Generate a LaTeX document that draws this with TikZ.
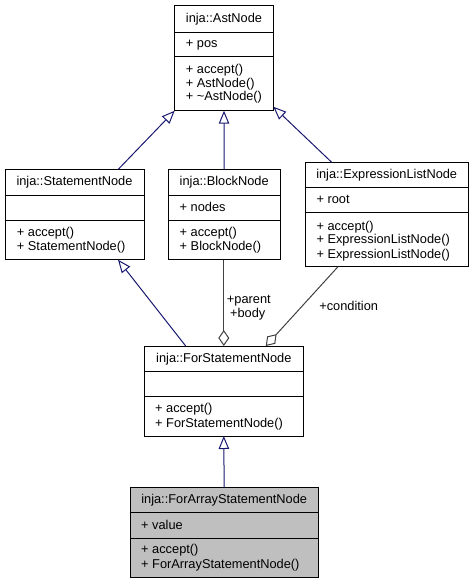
\documentclass[tikz,border=0pt]{standalone}
\usepackage{fontspec}
\setmainfont{Liberation Sans}
\usetikzlibrary{arrows.meta}
\definecolor{inhcol}{HTML}{191970}
\definecolor{aggcol}{HTML}{404040}
\definecolor{selfill}{HTML}{BFBFBF}
\newcommand{\classbox}[8][white]{%
  \node[box, fill=#1, minimum width=#5pt, minimum height=#6pt] (#2) at (#3,#4) {};
  \draw[divider] ([yshift=-#7pt]#2.north west) -- ([yshift=-#7pt]#2.north east);
  \draw[divider] ([yshift=-#8pt]#2.north west) -- ([yshift=-#8pt]#2.north east);
}
\begin{document}
\begin{tikzpicture}[x=1pt,y=-1pt,
  font=\fontsize{12.8}{14}\selectfont,
  box/.style={draw=black, line width=1pt, inner sep=0pt, outer sep=0pt, anchor=north west},
  divider/.style={draw=black, line width=1pt},
  ttl/.style={inner sep=0pt, anchor=base},
  mem/.style={inner sep=0pt, anchor=base west},
  elbl/.style={inner sep=0pt, anchor=base, text=black},
  inhl/.style={draw=inhcol, line width=1pt, -{Triangle[open, length=13pt, width=10.5pt, line width=1pt]}},
  aggl/.style={draw=aggcol, line width=1pt, {Diamond[open, length=16pt, width=11pt, line width=1pt]}-}]
\useasboundingbox (0,0) rectangle (474,584);

% inja::AstNode
\classbox{ast}{174.7}{5.7}{98.6}{105}{26.6}{51}
\node[ttl] (astT) at (224,22.6) {inja::AstNode};
\node[mem] (astA1) at (185.7,47.6) {+ pos};
\node[mem] (astM1) at (185.7,73.6) {+ accept()};
\node[mem] (astM2) at (185.7,87) {+ AstNode()};
\node[mem] (astM3) at (185.7,100.8) {+ \textasciitilde AstNode()};

% inja::StatementNode
\classbox{stmt}{5}{169.3}{139}{90.4}{25.7}{50.7}
\node[ttl] (stmtT) at (74.5,185.5) {inja::StatementNode};
\node[mem] (stmtM1) at (16.7,236) {+ accept()};
\node[mem] (stmtM2) at (16.7,250.6) {+ StatementNode()};

% inja::BlockNode
\classbox{blk}{168.3}{169.3}{111.7}{90.4}{25.7}{50.7}
\node[ttl] (blkT) at (224.2,185.5) {inja::BlockNode};
\node[mem] (blkA1) at (179.5,211) {+ nodes};
\node[mem] (blkM1) at (179.5,236) {+ accept()};
\node[mem] (blkM2) at (179.5,250.6) {+ BlockNode()};

% inja::ExpressionListNode
\classbox{expr}{305}{162.3}{163.3}{104.4}{25}{50}
\node[ttl] (exprT) at (386.7,178.5) {inja::ExpressionListNode};
\node[mem] (exprA1) at (316.3,203.3) {+ root};
\node[mem] (exprM1) at (316.3,230) {+ accept()};
\node[mem] (exprM2) at (316.3,243.6) {+ ExpressionListNode()};
\node[mem] (exprM3) at (316.3,258.3) {+ ExpressionListNode()};

% inja::ForStatementNode
\classbox{fs}{144.3}{346}{159}{90}{25}{50.7}
\node[ttl] (fsT) at (223.8,362) {inja::ForStatementNode};
\node[mem] (fsM1) at (155,412.6) {+ accept()};
\node[mem] (fsM2) at (155,427) {+ ForStatementNode()};

% inja::ForArrayStatementNode
\classbox[selfill]{fa}{130}{487.3}{188.3}{90}{25.4}{50.7}
\node[ttl] (faT) at (224.2,503.3) {inja::ForArrayStatementNode};
\node[mem] (faA1) at (141,529.3) {+ value};
\node[mem] (faM1) at (141,553.6) {+ accept()};
\node[mem] (faM2) at (141,568.6) {+ ForArrayStatementNode()};

% inheritance
\draw[inhl] ([xshift=113.3pt]stmt.north west) -- (ast.south west);
\draw[inhl] (blk.north) -- (ast.south);
\draw[inhl] ([xshift=26.7pt]expr.north west) -- ([yshift=4pt]ast.south east);
\draw[inhl] ([xshift=41.4pt]fs.north west) -- ([xshift=113pt]stmt.south west);
\draw[inhl] (fa.north) -- (fs.south);

% aggregation
\draw[aggl] (fs.north) -- (fs.north |- blk.south);
\draw[aggl] ([xshift=121.5pt]fs.north west) -- ([xshift=33pt]expr.south west);
\node[elbl] (lblParent) at (248.8,303.3) {+parent};
\node[elbl] (lblBody) at (247.7,317) {+body};
\node[elbl] (lblCond) at (348.7,310) {+condition};
\end{tikzpicture}
\end{document}
